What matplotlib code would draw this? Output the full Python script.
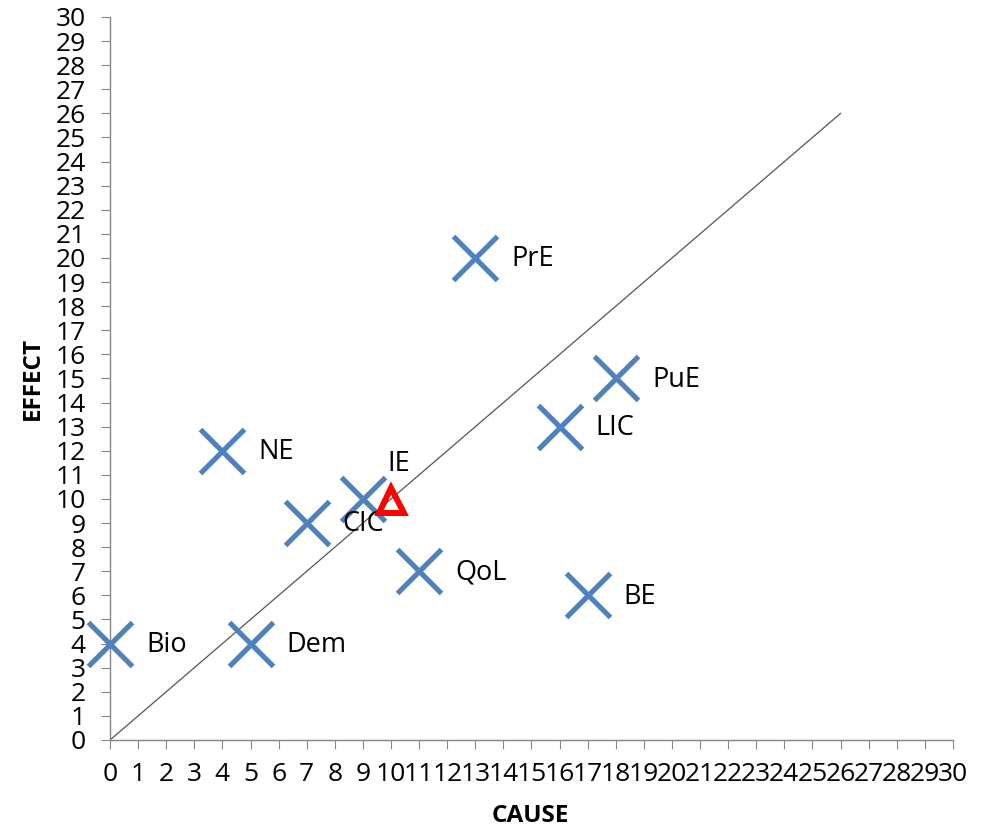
import matplotlib
matplotlib.use("Agg")
import matplotlib.pyplot as plt

labels = ["Bio", "Dem", "CIC", "NE", "IE", "QoL", "PrE", "LIC", "PuE", "BE"]
cause = [0, 5, 7, 4, 9, 11, 13, 16, 18, 17]
effect = [4, 4, 9, 12, 10, 7, 20, 13, 15, 6]
ref_point = (10, 9.95)
diag = [0, 26]
ticks = list(range(0, 31))

plt.rcParams['font.family'] = ['Open Sans', 'DejaVu Sans']

fig = plt.figure(figsize=(9.87, 8.32), dpi=100)
ax = fig.add_axes([0.1115, 0.1106, 0.854, 0.869])

ax.plot(diag, diag, color="#555555", lw=0.9, zorder=1)
ax.plot(cause, effect, linestyle="none", marker="x", markersize=32, mew=3.7,
        color="#4F81BD", zorder=3, clip_on=False)
ax.plot([ref_point[0]], [ref_point[1]], linestyle="none", marker="^", markersize=18,
        mfc="none", mec="#FF0000", mew=4.3, zorder=4)

for lab, x, y in zip(labels, cause, effect):
    if lab == "IE":
        ax.annotate(lab, (x, y), xytext=(26, 25), textcoords="offset points",
                    ha="center", va="center", fontsize=19.5)
    else:
        ax.annotate(lab, (x, y), xytext=(26, -1), textcoords="offset points",
                    ha="left", va="center", fontsize=19.5)

ax.set_xlim(0, 30)
ax.set_ylim(0, 30)
ax.set_xticks(ticks)
ax.set_yticks(ticks)
ax.tick_params(axis="both", direction="out", length=6.5, color="#868686",
               labelsize=19, labelcolor="black")
ax.tick_params(axis="x", pad=9)
ax.tick_params(axis="y", pad=11)
for side in ["top", "right"]:
    ax.spines[side].set_visible(False)
for side in ["left", "bottom"]:
    ax.spines[side].set_color("#868686")
    ax.spines[side].set_linewidth(1.0)

ax.set_xlabel("CAUSE", fontsize=17.5, fontweight="bold")
ax.set_ylabel("EFFECT", fontsize=17.5, fontweight="bold")
ax.xaxis.set_label_coords(0.498, -0.088)
ax.yaxis.set_label_coords(-0.077, 0.5)

fig.savefig("out.png", dpi=100)
